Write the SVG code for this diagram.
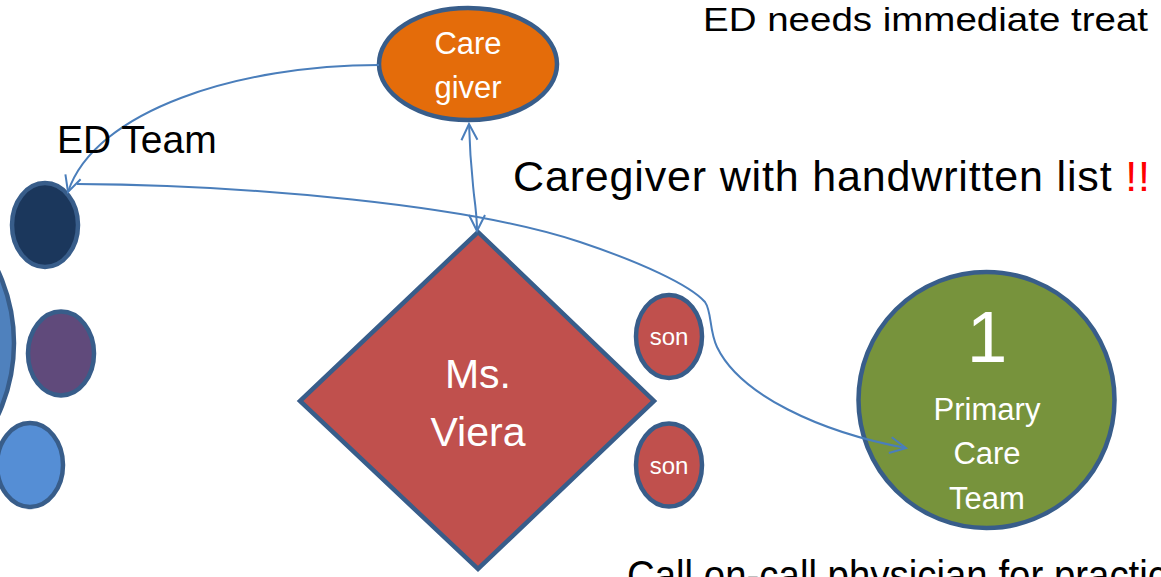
<svg xmlns="http://www.w3.org/2000/svg" width="1161" height="577" viewBox="0 0 1161 577">
<style>
.n{stroke:#385d8a;stroke-width:4.5}
.w{fill:#fff;font-family:"Liberation Sans",Arial,sans-serif;text-anchor:middle}
.k{fill:#000;font-family:"Liberation Sans",Arial,sans-serif}
.c{fill:none;stroke:#4a7ebb;stroke-width:2}
</style>
<defs>
<marker id="arr" viewBox="0 0 20 20" refX="18" refY="10" markerWidth="20" markerHeight="20" markerUnits="userSpaceOnUse" orient="auto-start-reverse">
<path d="M2,2 L18,10 L2,18" fill="none" stroke="#4a7ebb" stroke-width="2"/>
</marker>
</defs>
<rect width="1161" height="577" fill="#fff"/>
<g id="big-circle"><circle cx="-157" cy="343" r="171" fill="#4f81bd" class="n"/></g>
<g id="ed-1"><ellipse cx="45" cy="225" rx="33" ry="42" fill="#1b375c" class="n"/></g>
<g id="ed-2"><ellipse cx="61" cy="353.5" rx="33" ry="42" fill="#604a7b" class="n"/></g>
<g id="ed-3"><ellipse cx="30" cy="465" rx="33" ry="42" fill="#558ed5" class="n"/></g>
<g id="caregiver"><ellipse cx="468" cy="64" rx="89" ry="56" fill="#e46c0a" class="n"/>
<text class="w" x="468" y="54" font-size="31">Care</text>
<text class="w" x="468" y="98" font-size="31">giver</text></g>
<g id="viera"><polygon points="478,232 654,401 478,569 300,401" fill="#c0504d" class="n"/>
<text class="w" x="478" y="388" font-size="41">Ms.</text>
<text class="w" x="478" y="446" font-size="41">Viera</text></g>
<g id="son-1"><ellipse cx="669" cy="336.5" rx="33" ry="41.5" fill="#c0504d" class="n"/>
<text class="w" x="669" y="345" font-size="24">son</text></g>
<g id="son-2"><ellipse cx="669" cy="465" rx="33" ry="41.5" fill="#c0504d" class="n"/>
<text class="w" x="669" y="474" font-size="24">son</text></g>
<g id="pcp"><circle cx="986.5" cy="400" r="128" fill="#77933c" class="n"/>
<text class="w" x="987" y="362" font-size="73">1</text>
<text class="w" x="987" y="420" font-size="31">Primary</text>
<text class="w" x="987" y="464" font-size="31">Care</text>
<text class="w" x="987" y="509" font-size="31">Team</text></g>
<g id="connectors">
<path class="c" d="M379,65 C240,65 95,110 68,192" marker-end="url(#arr)"/>
<path class="c" d="M469,124 C470,160 472,175 474,195 C476,210 477,220 477,231" marker-start="url(#arr)" marker-end="url(#arr)"/>
<path class="c" d="M77,184 C250,185 470,205 580,242 C640,262 690,285 705,302 C712,312 709,330 717,347 C740,395 820,432 906,448" marker-end="url(#arr)"/>
</g>
<g id="labels">
<text class="k" x="703" y="31" font-size="34" textLength="445" lengthAdjust="spacingAndGlyphs">ED needs immediate treat</text>
<text class="k" x="57" y="153" font-size="39">ED Team</text>
<text class="k" x="513" y="191" font-size="43" textLength="637">Caregiver with handwritten list <tspan fill="#ff0000">!!</tspan></text>
<text class="k" x="627" y="590" font-size="42" textLength="540" lengthAdjust="spacingAndGlyphs">Call on-call physician for practic</text>
</g>
</svg>
